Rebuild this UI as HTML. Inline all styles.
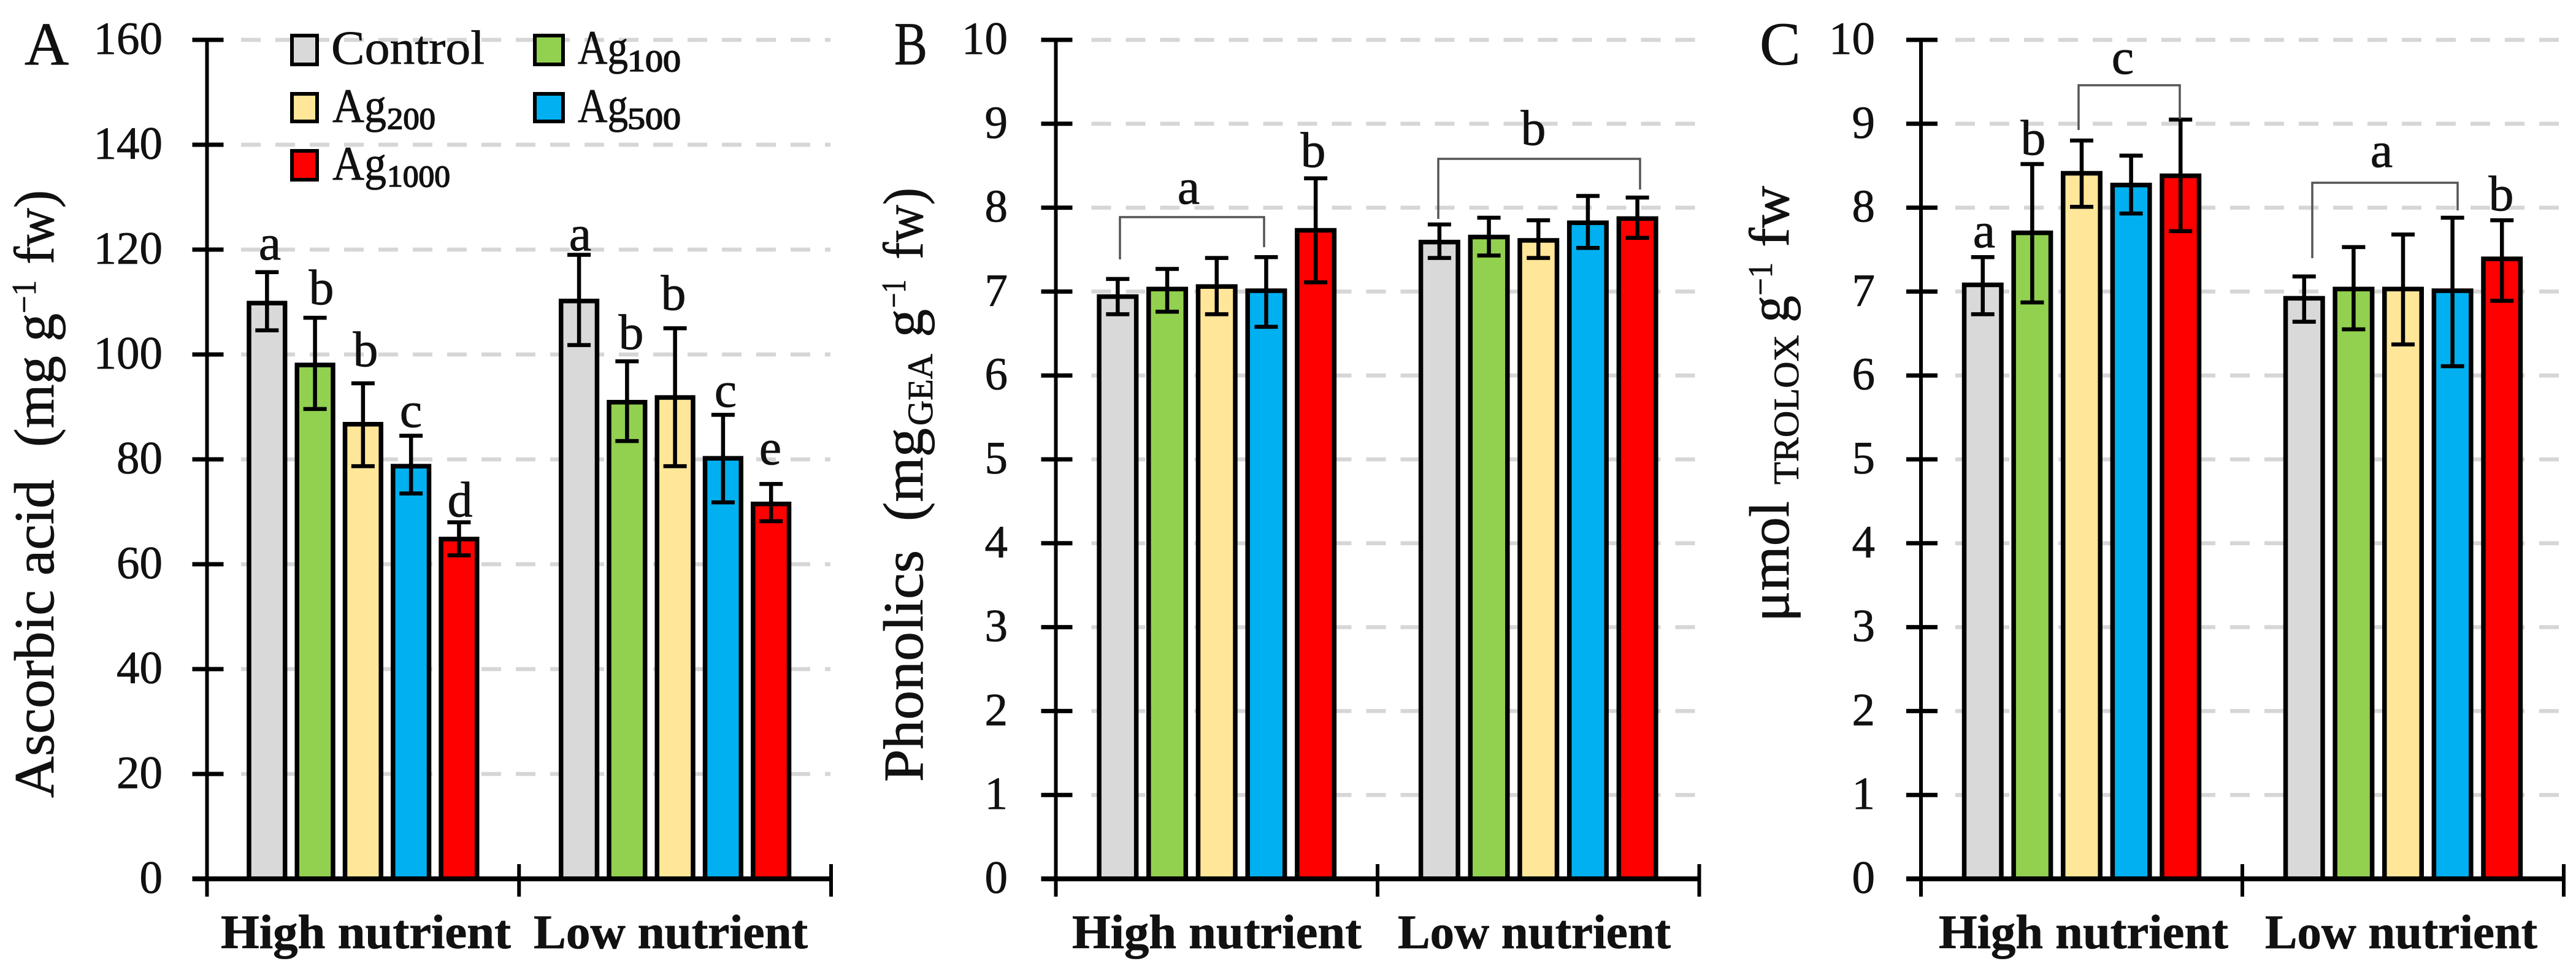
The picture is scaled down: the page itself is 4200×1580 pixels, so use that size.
<!DOCTYPE html>
<html lang="en">
<head>
<meta charset="utf-8">
<title>Ascorbic acid, phenolics and antioxidant capacity</title>
<style>
html,body{margin:0;padding:0;background:#fff;}
svg{display:block;}
text{font-family:"Liberation Serif","DejaVu Serif",serif;fill:#111;stroke:#111;stroke-width:0.8;}
.title{font-size:92px;}
.sup{font-size:56px;}
.small{font-size:58px;}
.panel{font-size:100px;}
.cat{font-size:78px;font-weight:bold;}
.leg{font-size:78px;}
.legsub{font-size:50px;stroke-width:1.6;}
.sig{font-size:82px;text-anchor:middle;}
.bracket{fill:none;stroke:#555;stroke-width:3.5;}
</style>
</head>
<body>
<svg xmlns="http://www.w3.org/2000/svg" width="4200" height="1580" viewBox="0 0 4200 1580">
<rect width="4200" height="1580" fill="#fff"/>
<g id="plots"></g>

<text class="panel" x="40" y="105">A</text>
<text class="panel" x="1458" y="105" textLength="54" lengthAdjust="spacingAndGlyphs">B</text>
<text class="panel" x="2869" y="105">C</text>

<g>
<text class="title" transform="translate(87,1301) rotate(-90)" textLength="519" lengthAdjust="spacingAndGlyphs">Ascorbic acid</text>
<text class="title" transform="translate(87,729) rotate(-90)" textLength="218" lengthAdjust="spacingAndGlyphs">(mg g</text>
<text class="sup" transform="translate(58,511) rotate(-90)" textLength="54" lengthAdjust="spacingAndGlyphs">−1</text>
<text class="title" transform="translate(87,431) rotate(-90)" textLength="121" lengthAdjust="spacingAndGlyphs">fw)</text>
</g>
<g>
<text class="title" transform="translate(1504,1275) rotate(-90)" textLength="378" lengthAdjust="spacingAndGlyphs">Phonolics</text>
<text class="title" transform="translate(1504,850) rotate(-90)" textLength="152" lengthAdjust="spacingAndGlyphs">(mg</text>
<text class="small" transform="translate(1520,694) rotate(-90)" textLength="117" lengthAdjust="spacingAndGlyphs">GEA</text>
<text class="title" transform="translate(1504,550) rotate(-90)" textLength="46" lengthAdjust="spacingAndGlyphs">g</text>
<text class="sup" transform="translate(1476,502) rotate(-90)" textLength="46" lengthAdjust="spacingAndGlyphs">−1</text>
<text class="title" transform="translate(1504,423) rotate(-90)" textLength="117" lengthAdjust="spacingAndGlyphs">fw)</text>
</g>
<g>
<text class="title" transform="translate(2916,1014) rotate(-90)" textLength="197" lengthAdjust="spacingAndGlyphs">μmol</text>
<text class="small" transform="translate(2932,790) rotate(-90)" textLength="244" lengthAdjust="spacingAndGlyphs">TROLOX</text>
<text class="title" transform="translate(2916,526) rotate(-90)" textLength="44" lengthAdjust="spacingAndGlyphs">g</text>
<text class="sup" transform="translate(2889,482) rotate(-90)" textLength="54" lengthAdjust="spacingAndGlyphs">−1</text>
<text class="title" transform="translate(2916,403) rotate(-90)" textLength="100" lengthAdjust="spacingAndGlyphs">fw</text>
</g>

<g>
<text class="cat" x="360" y="1546" textLength="473" lengthAdjust="spacingAndGlyphs">High nutrient</text>
<text class="cat" x="870" y="1546" textLength="447" lengthAdjust="spacingAndGlyphs">Low nutrient</text>
<text class="cat" x="1748" y="1546" textLength="472" lengthAdjust="spacingAndGlyphs">High nutrient</text>
<text class="cat" x="2279" y="1546" textLength="445" lengthAdjust="spacingAndGlyphs">Low nutrient</text>
<text class="cat" x="3161" y="1546" textLength="472" lengthAdjust="spacingAndGlyphs">High nutrient</text>
<text class="cat" x="3693" y="1546" textLength="444" lengthAdjust="spacingAndGlyphs">Low nutrient</text>
</g>

<g>
<g>
<rect x="476" y="58" width="41" height="47" fill="#D9D9D9" stroke="#000" stroke-width="6"/>
<text class="leg" x="540" y="104" textLength="250" lengthAdjust="spacingAndGlyphs">Control</text>
</g>
<g>
<rect x="872" y="58" width="46" height="47" fill="#92D050" stroke="#000" stroke-width="6"/>
<text class="leg" x="942" y="104" textLength="82" lengthAdjust="spacingAndGlyphs">Ag</text>
<text class="legsub" x="1023" y="116" textLength="87" lengthAdjust="spacingAndGlyphs">100</text>
</g>
<g>
<rect x="476" y="153" width="41" height="45" fill="#FFE699" stroke="#000" stroke-width="6"/>
<text class="leg" x="542" y="199" textLength="88" lengthAdjust="spacingAndGlyphs">Ag</text>
<text class="legsub" x="631" y="210" textLength="79" lengthAdjust="spacingAndGlyphs">200</text>
</g>
<g>
<rect x="872" y="153" width="46" height="45" fill="#00B0F0" stroke="#000" stroke-width="6"/>
<text class="leg" x="942" y="199" textLength="82" lengthAdjust="spacingAndGlyphs">Ag</text>
<text class="legsub" x="1023" y="210" textLength="87" lengthAdjust="spacingAndGlyphs">500</text>
</g>
<g>
<rect x="476" y="246" width="41" height="47" fill="#FF0000" stroke="#000" stroke-width="6"/>
<text class="leg" x="542" y="293" textLength="88" lengthAdjust="spacingAndGlyphs">Ag</text>
<text class="legsub" x="631" y="304" textLength="103" lengthAdjust="spacingAndGlyphs">1000</text>
</g>
</g>

<g>
<text class="sig" x="440" y="423">a</text>
<text class="sig" x="524" y="496">b</text>
<text class="sig" x="596" y="597">b</text>
<text class="sig" x="670" y="696">c</text>
<text class="sig" x="750" y="842">d</text>
<text class="sig" x="946" y="408">a</text>
<text class="sig" x="1029" y="569">b</text>
<text class="sig" x="1098" y="505">b</text>
<text class="sig" x="1183" y="663">c</text>
<text class="sig" x="1256" y="757">e</text>
</g>
<g>
<text class="sig" x="1938" y="332">a</text>
<text class="sig" x="2141" y="272">b</text>
<text class="sig" x="2500" y="236">b</text>
</g>
<g>
<text class="sig" x="3461" y="120">c</text>
<text class="sig" x="3315" y="252">b</text>
<text class="sig" x="3235" y="403">a</text>
<text class="sig" x="3883" y="272">a</text>
<text class="sig" x="4078" y="343">b</text>
</g>
<path class="bracket" d="M1826 423V354H2061V403"/>
<path class="bracket" d="M2345 357V259H2674V309"/>
<path class="bracket" d="M3389 212V139H3554V194"/>
<path class="bracket" d="M3770 421V298H4007V343"/>
</svg>

<script>
const treatments = ['Control', 'Ag100', 'Ag200', 'Ag500', 'Ag1000'];
const barColors = ['#D9D9D9', '#92D050', '#FFE699', '#00B0F0', '#FF0000'];

const ascorbicTicks = [0, 20, 40, 60, 80, 100, 120, 140, 160];
const ascorbicHighMeans = [109.8, 98, 86.7, 78.7, 64.8];
const ascorbicHighUpper = [115.7, 107, 94.5, 84.5, 68];
const ascorbicHighLower = [104.6, 89.6, 78.7, 73.5, 61.7];
const ascorbicLowMeans = [110.2, 90.9, 91.8, 80.2, 71.5];
const ascorbicLowUpper = [119, 98.7, 105, 88.5, 75.3];
const ascorbicLowLower = [101.8, 83.5, 78.7, 71.8, 68.2];

const phenolicTicks = [0, 1, 2, 3, 4, 5, 6, 7, 8, 9, 10];
const phenolicHighMeans = [6.94, 7.03, 7.06, 7.01, 7.73];
const phenolicHighUpper = [7.15, 7.27, 7.4, 7.41, 8.35];
const phenolicHighLower = [6.73, 6.76, 6.73, 6.58, 7.11];
const phenolicLowMeans = [7.59, 7.65, 7.61, 7.82, 7.87];
const phenolicLowUpper = [7.8, 7.88, 7.85, 8.14, 8.12];
const phenolicLowLower = [7.4, 7.43, 7.4, 7.52, 7.64];

const troloxTicks = [0, 1, 2, 3, 4, 5, 6, 7, 8, 9, 10];
const troloxHighMeans = [7.08, 7.7, 8.41, 8.27, 8.38];
const troloxHighUpper = [7.41, 8.52, 8.8, 8.62, 9.05];
const troloxHighLower = [6.73, 6.87, 8.01, 7.93, 7.72];
const troloxLowMeans = [6.92, 7.03, 7.03, 7.01, 7.39];
const troloxLowUpper = [7.18, 7.53, 7.68, 7.88, 7.85];
const troloxLowLower = [6.64, 6.55, 6.37, 6.11, 6.89];

const SVG_NS = 'http://www.w3.org/2000/svg';
const plotsRoot = document.getElementById('plots');

function shape(tag, parent, geometry) {
  const node = document.createElementNS(SVG_NS, tag);
  for (const key in geometry) node.setAttribute(key, geometry[key]);
  parent.appendChild(node);
  return node;
}

function drawPanel(cfg) {
  const yScale = v => cfg.y0 - (v / cfg.ticks[cfg.ticks.length - 1]) * (cfg.y0 - cfg.yTop);
  const catWidth = (cfg.xRight - cfg.xLeft) / cfg.groups.length;
  const pitch = catWidth / 6.5;
  const xScale = (g, b) => cfg.xLeft + catWidth * (g + 0.5) + pitch * (b - (treatments.length - 1) / 2);
  const barW = pitch * 0.75;

  const panel = shape('g', plotsRoot, {});
  
  

  cfg.ticks.forEach(t => {
    if (t === 0) return;
    const grid = shape('line', panel, {x1: cfg.gridStart, x2: cfg.xRight - 1, y1: yScale(t), y2: yScale(t), stroke: '#D6D6D6', 'stroke-width': 6.5, 'stroke-dasharray': '32 24'});
    
    
  });

  cfg.groups.forEach((group, g) => {
    group.means.forEach((m, b) => {
      const cx = xScale(g, b);
      const bar = shape('rect', panel, {x: cx - barW / 2, y: yScale(m), width: barW, height: cfg.y0 - yScale(m), fill: barColors[b], stroke: '#000', 'stroke-width': 7.5});
      
      
    });
  });

  cfg.groups.forEach((group, g) => {
    group.means.forEach((m, b) => {
      const cx = xScale(g, b);
      const errorBar = shape('path', panel, {d: 'M' + (cx - 19) + ' ' + yScale(group.upper[b]) + 'H' + (cx + 19) + 'M' + cx + ' ' + yScale(group.upper[b]) + 'V' + yScale(group.lower[b]) + 'M' + (cx - 19) + ' ' + yScale(group.lower[b]) + 'H' + (cx + 19), fill: 'none', stroke: '#000', 'stroke-width': 6.5});
      
      
    });
  });

  const yAxis = shape('line', panel, {x1: cfg.xLeft, x2: cfg.xLeft, y1: cfg.yTop - 3, y2: cfg.y0 + 29, stroke: '#000', 'stroke-width': 6});
  
  

  const xAxis = shape('line', panel, {x1: cfg.xLeft - 24, x2: cfg.xRight + 2, y1: cfg.y0, y2: cfg.y0, stroke: '#000', 'stroke-width': 8});
  
  

  cfg.groups.forEach((group, g) => {
    const tx = cfg.xLeft + catWidth * (g + 1);
    const xTick = shape('line', panel, {x1: tx, x2: tx, y1: cfg.y0 - 24, y2: cfg.y0 + 29, stroke: '#000', 'stroke-width': 6});
    
    
  });

  cfg.ticks.forEach(t => {
    const yTick = shape('line', panel, {x1: cfg.xLeft - 24, x2: cfg.xLeft + 27, y1: yScale(t), y2: yScale(t), stroke: '#000', 'stroke-width': 7});
    
    
    const label = shape('text', panel, {x: cfg.labelRight, y: yScale(t) + 23, 'text-anchor': 'end', 'font-size': 75});
    label.textContent = String(t);
    
    
  });
}

drawPanel({key: 'a', xLeft: 337.5, xRight: 1355, y0: 1433, yTop: 65, gridStart: 393, labelRight: 265, ticks: ascorbicTicks,
  groups: [
    {name: 'high', means: ascorbicHighMeans, upper: ascorbicHighUpper, lower: ascorbicHighLower},
    {name: 'low', means: ascorbicLowMeans, upper: ascorbicLowUpper, lower: ascorbicLowLower}
  ]});
drawPanel({key: 'b', xLeft: 1721.5, xRight: 2770.5, y0: 1433, yTop: 65, gridStart: 1779.5, labelRight: 1643, ticks: phenolicTicks,
  groups: [
    {name: 'high', means: phenolicHighMeans, upper: phenolicHighUpper, lower: phenolicHighLower},
    {name: 'low', means: phenolicLowMeans, upper: phenolicLowUpper, lower: phenolicLowLower}
  ]});
drawPanel({key: 'c', xLeft: 3132, xRight: 4180, y0: 1433, yTop: 65, gridStart: 3188, labelRight: 3057, ticks: troloxTicks,
  groups: [
    {name: 'high', means: troloxHighMeans, upper: troloxHighUpper, lower: troloxHighLower},
    {name: 'low', means: troloxLowMeans, upper: troloxLowUpper, lower: troloxLowLower}
  ]});
</script>
</body>
</html>
